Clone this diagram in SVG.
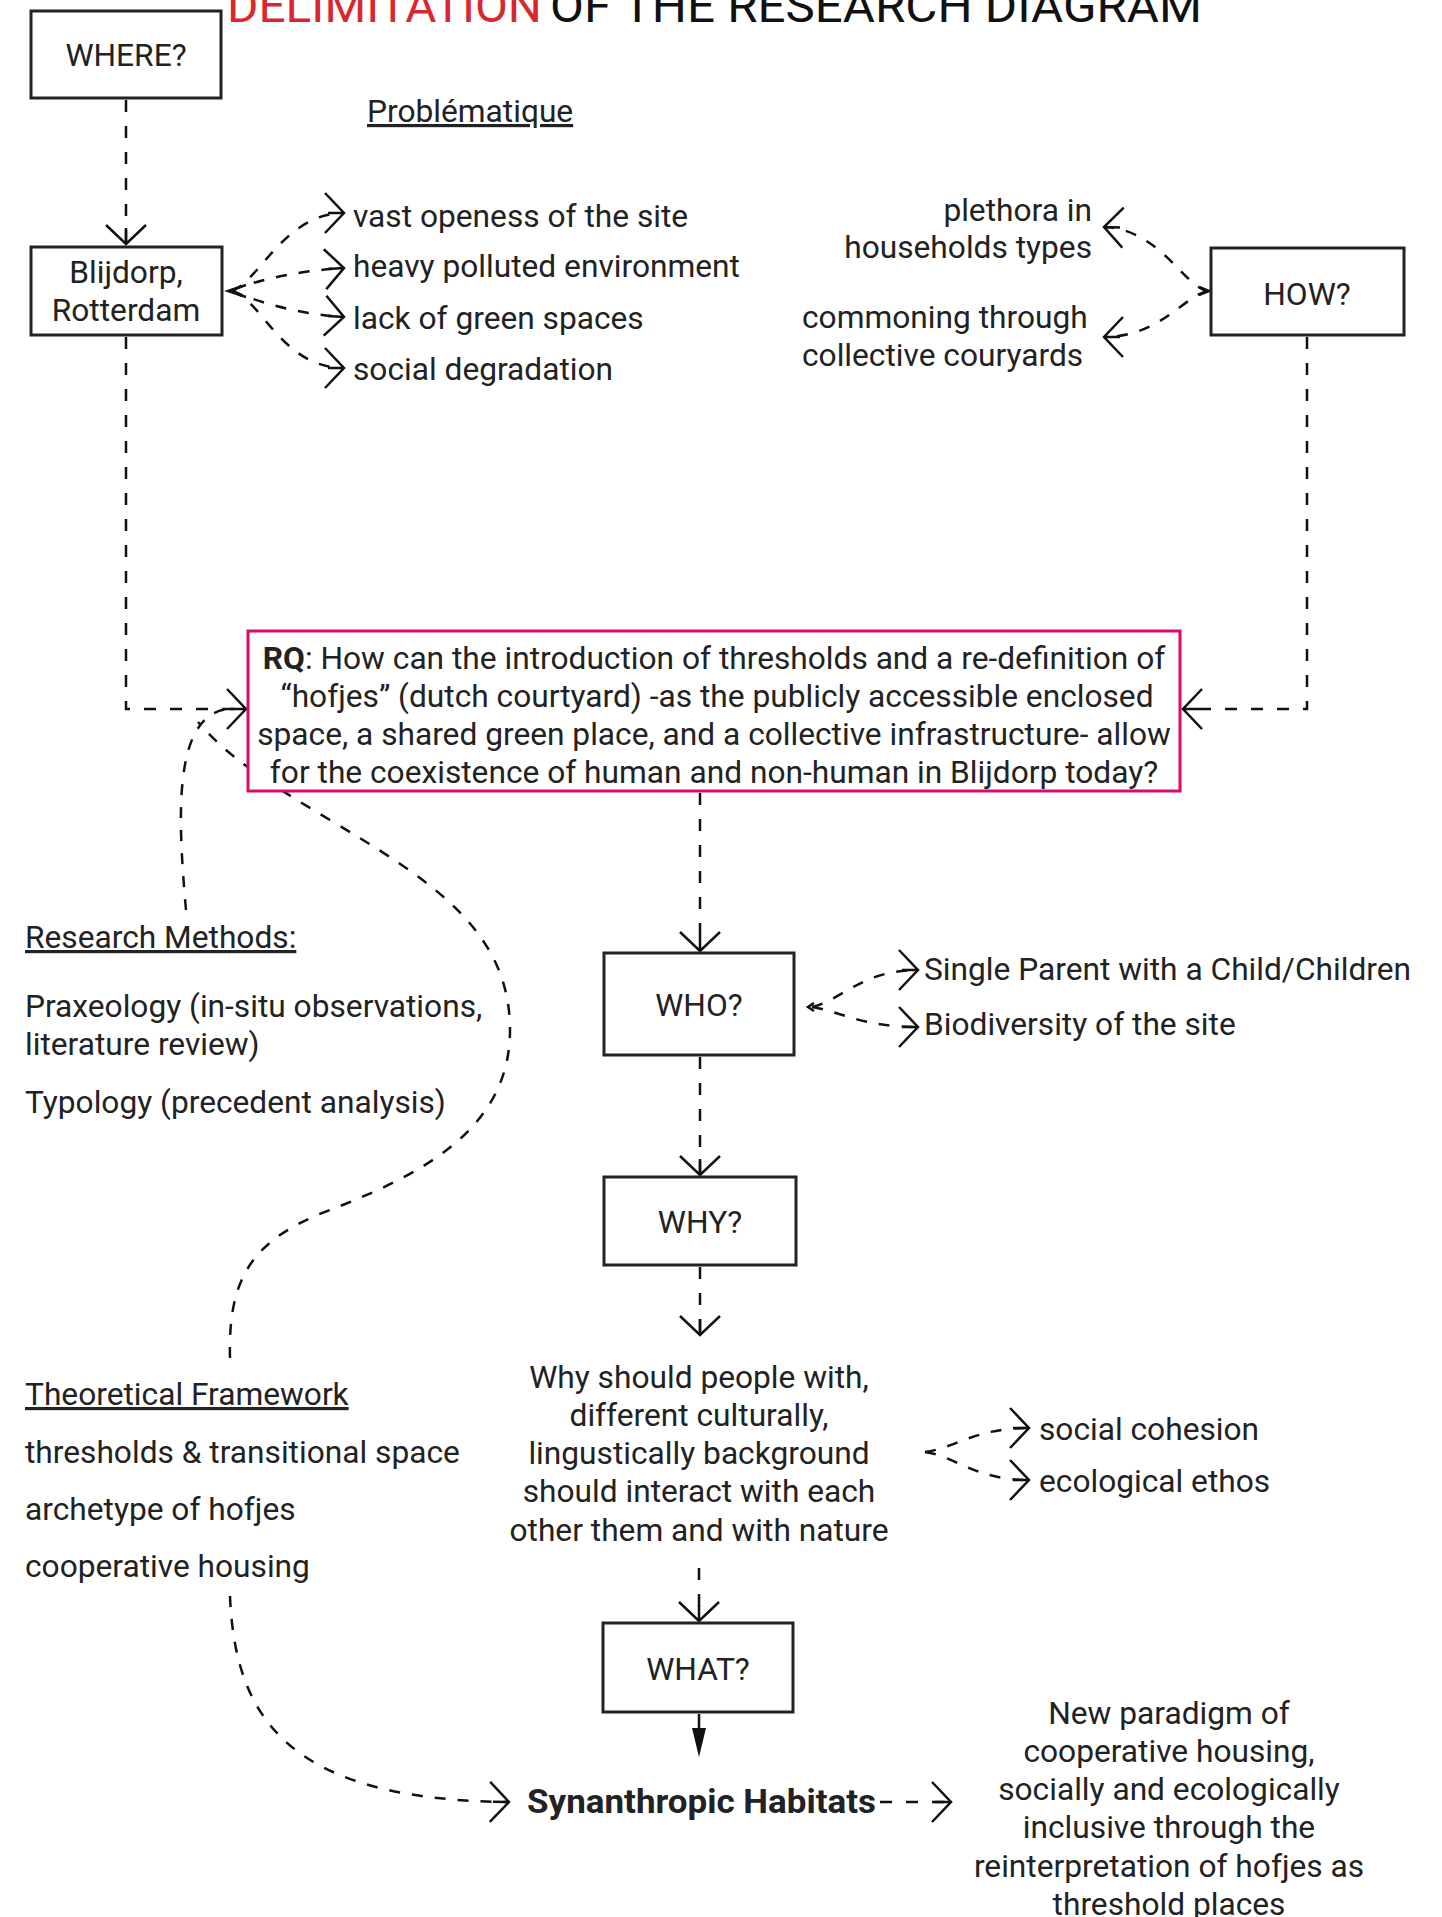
<svg xmlns="http://www.w3.org/2000/svg" width="1442" height="1917" viewBox="0 0 1442 1917">
<defs>
<style>
text{font-family:Roboto,"Liberation Sans",sans-serif;fill:#222;font-size:31.7px}
.title{font-size:46px;fill:#111}
.red{fill:#d7282f}
.box{fill:#fff;stroke:#222;stroke-width:3}
.rq{fill:#fff;stroke:#d90a68;stroke-width:3}
.c{text-anchor:middle}
.e{text-anchor:end}
.u{text-decoration:underline}
.b{font-weight:700}
.syn{font-weight:700;font-size:33px}
.dash{fill:none;stroke:#111;stroke-width:2.5;stroke-dasharray:12 14}
.curve{fill:none;stroke:#111;stroke-width:2.5;stroke-dasharray:11 12}
.solid{fill:none;stroke:#111;stroke-width:2.5}
</style>
<marker id="arr" markerUnits="userSpaceOnUse" markerWidth="50" markerHeight="50" viewBox="-25 -25 50 50" refX="0" refY="0" orient="auto" overflow="visible">
<path d="M-19,-20 L0,0 L-19,20 M-16,0 L0,0" fill="none" stroke="#111" stroke-width="2.5"/>
</marker>
</defs>
<rect width="1442" height="1917" fill="#fff"/>

<g id="title">
<text class="title red" x="227" y="22" textLength="315" lengthAdjust="spacingAndGlyphs">DELIMITATION</text>
<text class="title" x="550" y="22" textLength="652" lengthAdjust="spacingAndGlyphs">OF THE RESEARCH DIAGRAM</text>
</g>

<g id="connectors">
<path class="dash" d="M126,100 L126,244" marker-end="url(#arr)"/>
<path class="dash" d="M126,337 L126,709 L246,709" marker-end="url(#arr)"/>
<path class="dash" d="M1307,337 L1307,709 L1183,709" marker-end="url(#arr)"/>
<path class="curve" d="M232,291 C260,280 285,213 344,213" marker-end="url(#arr)"/>
<path class="curve" d="M232,290 Q280,272 344,268" marker-end="url(#arr)"/>
<path class="curve" d="M232,291 Q285,313 344,317" marker-end="url(#arr)"/>
<path class="curve" d="M232,291 C262,300 282,368 344,368" marker-end="url(#arr)"/>
<polyline class="solid" points="246,285 228,291 246,297"/>
<path class="curve" d="M1208,291 C1185,288 1160,229 1104,227" marker-end="url(#arr)"/>
<path class="curve" d="M1208,291 C1185,295 1160,337 1104,337" marker-end="url(#arr)"/>
<polyline class="solid" points="1199,287 1209,291 1199,295"/>
<path class="dash" d="M700,793 L700,951" marker-end="url(#arr)"/>
<path class="curve" d="M812,1007 C842,1000 862,970 918,970" marker-end="url(#arr)"/>
<path class="curve" d="M812,1007 C842,1012 862,1027 918,1027" marker-end="url(#arr)"/>
<polyline class="solid" points="814,1003 808,1007 814,1011"/>
<path class="dash" d="M700,1057 L700,1175" marker-end="url(#arr)"/>
<path class="dash" d="M700,1267 L700,1335" marker-end="url(#arr)"/>
<path class="curve" d="M925,1452 C955,1448 975,1428 1029,1428" marker-end="url(#arr)"/>
<path class="curve" d="M925,1452 C955,1456 975,1480 1029,1480" marker-end="url(#arr)"/>
<path class="dash" d="M699,1568 L699,1621" marker-end="url(#arr)"/>
<path class="solid" d="M699,1714 L699,1730"/>
<polygon points="692,1728 706,1728 699,1757" fill="#111"/>
<path class="dash" d="M880,1802 L951,1802" marker-end="url(#arr)"/>
<path class="curve" d="M186,910 C178,820 172,715 228,709"/>
<path class="curve" d="M230,1358 C228,1280 250,1240 330,1210 C420,1175 510,1130 510,1030 C510,930 430,880 330,820 C280,790 230,760 198,722"/>
<path class="curve" d="M230,1596 C235,1720 290,1800 509,1802" marker-end="url(#arr)"/>
</g>

<g id="where">
<rect class="box" x="31" y="11" width="190" height="87"/>
<text class="c" x="126" y="66">WHERE?</text>
</g>

<g id="problematique">
<text class="u" x="367" y="122">Problématique</text>
</g>

<g id="blijdorp">
<rect class="box" x="31" y="247" width="191" height="88"/>
<text class="c" x="126" y="283">Blijdorp,</text>
<text class="c" x="126" y="321">Rotterdam</text>
</g>

<g id="p-vast"><text x="353" y="227">vast openess of the site</text></g>
<g id="p-heavy"><text x="353" y="277">heavy polluted environment</text></g>
<g id="p-lack"><text x="353" y="329">lack of green spaces</text></g>
<g id="p-social"><text x="353" y="380">social degradation</text></g>

<g id="how">
<rect class="box" x="1211" y="248" width="193" height="87"/>
<text class="c" x="1307" y="305">HOW?</text>
</g>

<g id="h-plethora">
<text class="e" x="1092" y="221">plethora in</text>
<text class="e" x="1092" y="258">households types</text>
</g>
<g id="h-commoning">
<text x="802" y="328">commoning through</text>
<text x="802" y="366">collective couryards</text>
</g>

<g id="rq">
<rect class="rq" x="248" y="631" width="932" height="160"/>
<text class="c" x="714" y="669"><tspan class="b">RQ</tspan>: How can the introduction of thresholds and a re-definition of</text>
<text class="c" x="717" y="707">“hofjes” (dutch courtyard) -as the publicly accessible enclosed</text>
<text class="c" x="714" y="745">space, a shared green place, and a collective infrastructure- allow</text>
<text class="c" x="714" y="783">for the coexistence of human and non-human in Blijdorp today?</text>
</g>

<g id="research-methods">
<text class="u" x="25" y="948">Research Methods:</text>
<text x="25" y="1017">Praxeology (in-situ observations,</text>
<text x="25" y="1055">literature review)</text>
<text x="25" y="1113">Typology (precedent analysis)</text>
</g>

<g id="who">
<rect class="box" x="604" y="953" width="190" height="102"/>
<text class="c" x="699" y="1016">WHO?</text>
</g>
<g id="w-single"><text x="924" y="980">Single Parent with a Child/Children</text></g>
<g id="w-bio"><text x="924" y="1035">Biodiversity of the site</text></g>

<g id="why">
<rect class="box" x="604" y="1177" width="192" height="88"/>
<text class="c" x="700" y="1233">WHY?</text>
</g>

<g id="why-text">
<text class="c" x="699" y="1388">Why should people with,</text>
<text class="c" x="699" y="1426">different culturally,</text>
<text class="c" x="699" y="1464">lingustically background</text>
<text class="c" x="699" y="1502">should interact with each</text>
<text class="c" x="699" y="1541">other them and with nature</text>
</g>
<g id="y-social"><text x="1039" y="1440">social cohesion</text></g>
<g id="y-eco"><text x="1039" y="1492">ecological ethos</text></g>

<g id="theoretical-framework">
<text class="u" x="25" y="1405">Theoretical Framework</text>
<text x="25" y="1463">thresholds &amp; transitional space</text>
<text x="25" y="1520">archetype of hofjes</text>
<text x="25" y="1577">cooperative housing</text>
</g>

<g id="what">
<rect class="box" x="603" y="1623" width="190" height="89"/>
<text class="c" x="698" y="1680">WHAT?</text>
</g>

<g id="synanthropic">
<text class="syn" x="527" y="1813" textLength="349" lengthAdjust="spacingAndGlyphs">Synanthropic Habitats</text>
</g>

<g id="new-paradigm">
<text class="c" x="1169" y="1724">New paradigm of</text>
<text class="c" x="1169" y="1762">cooperative housing,</text>
<text class="c" x="1169" y="1800">socially and ecologically</text>
<text class="c" x="1169" y="1838">inclusive through the</text>
<text class="c" x="1169" y="1877">reinterpretation of hofjes as</text>
<text class="c" x="1169" y="1915">threshold places</text>
</g>
</svg>
